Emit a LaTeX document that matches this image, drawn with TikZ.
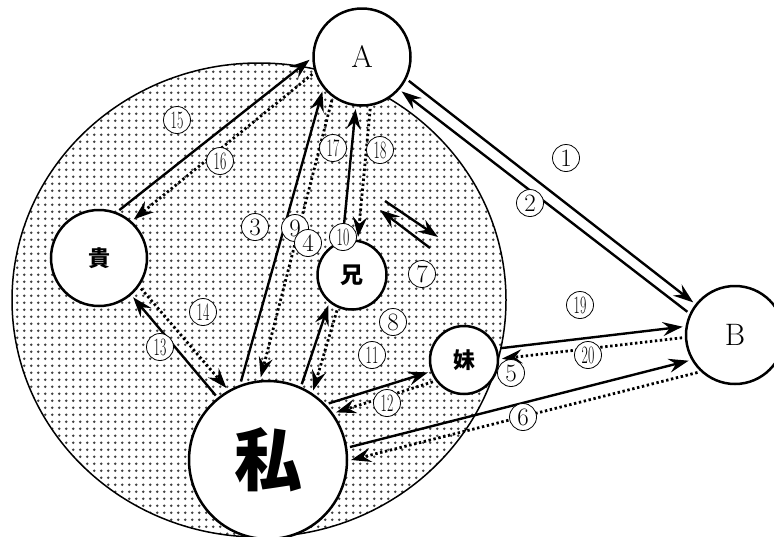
\documentclass[tikz,border=0pt]{standalone}
\usepackage{fontspec}
\usepackage{graphicx}
\usetikzlibrary{arrows.meta,patterns}
\newfontfamily\cjk{Noto Sans CJK JP}
\newcommand\nn[1]{\scalebox{.55}[1]{#1}}
\pgfdeclarepatternformonly{screen}{\pgfpointorigin}{\pgfpoint{7.2pt}{7.2pt}}{\pgfpoint{7.2pt}{7.2pt}}{%
  \pgfpathcircle{\pgfpoint{3.6pt}{3.6pt}}{1.6pt}\pgfusepath{fill}}
\tikzset{
  person/.style={circle,draw,fill=white,line width=2.5pt,outer sep=4pt,inner sep=0pt},
  num/.style={circle,draw,fill=white,line width=.8pt,minimum size=27pt,inner sep=0pt,font=\fontsize{25}{25}\selectfont},
  back/.style={dash pattern=on 2.4pt off 2.6pt,line width=2.8pt}
}
\begin{document}
\begin{tikzpicture}[>={Stealth[length=20pt,width=14pt,inset=7pt]},x=1pt,y=-1pt,line width=2.4pt]
	\useasboundingbox (0,0) rectangle (774,536);
	% dotted background
	\draw[line width=1.5pt,preaction={fill=white},pattern=screen,pattern color=black!75] (259,300) ellipse [x radius=247pt,y radius=237pt];
	% people
	\node[person,minimum size=97pt,font=\fontsize{31}{31}\selectfont] (A) at (362,57) {A};
	\node[person,minimum size=98pt,font=\fontsize{31}{31}\selectfont] (B) at (735,335) {B};
	\node[person,minimum size=96pt,font=\cjk\bfseries\fontsize{22}{22}\selectfont] (ki) at (99,258) {貴};
	\node[person,minimum size=69pt,font=\cjk\bfseries\fontsize{23}{23}\selectfont] (ani) at (352,275) {兄};
	\node[person,minimum size=68pt,font=\cjk\bfseries\fontsize{22}{22}\selectfont] (imo) at (464,360) {妹};
	\node[person,minimum size=158pt,font=\cjk\bfseries\fontsize{68}{68}\selectfont] (me) at (268,460) {私};
	% A and B
	\draw[->] (A.-27) -- (B.142);
	\draw[->] (B.154) -- (A.-41);
	% me and A
	\draw[->] (me.109) -- (A.-139);
	\draw[->,back] (A.-125) -- (me.95);
	% imo and B
	\draw[->] (imo.18) -- (B.171);
	\draw[->,back] (B.-177) -- (imo.2);
	% me and B
	\draw[->] (me.9) -- (B.-151);
	\draw[->,back] (B.-135) -- (me.0);
	% me and imo
	\draw[->] (me.43) -- (imo.-161);
	\draw[->,back] (imo.-145) -- (me.35);
	% me and ani
	\draw[->] (me.66) -- (ani.-128);
	\draw[->,back] (ani.-113) -- (me.57);
	% ani and A
	\draw[->] (ani.104) -- (A.-97);
	\draw[->,back] (A.-81) -- (ani.81);
	% ki and A
	\draw[->] (ki.67) -- (A.-177);
	\draw[->,back] (A.-161) -- (ki.48);
	% me and ki
	\draw[->] (me.129) -- (ki.-49);
	\draw[->,back] (ki.-36) -- (me.120);
	% loose pair
	\coordinate (p1) at (385,201);
	\coordinate (p2) at (438,237);
	\coordinate (q1) at (430,248);
	\coordinate (q2) at (380,210);
	\draw[->] (p1) -- (p2);
	\draw[->] (q1) -- (q2);
	% numbers
	\node[num] (n1) at (566,158) {1};
	\node[num] (n2) at (530,203) {2};
	\node[num] (n3) at (255,227) {3};
	\node[num] (n9) at (295,228) {9};
	\node[num] (n4) at (308,243) {4};
	\node[num] (n5) at (511,373) {5};
	\node[num] (n6) at (523,417) {6};
	\node[num] (n7) at (422,274) {7};
	\node[num] (n8) at (393,322) {8};
	\node[num] (n10) at (343,237) {\nn{10}};
	\node[num] (n11) at (372,355) {\nn{11}};
	\node[num] (n12) at (387,403) {\nn{12}};
	\node[num] (n13) at (160,347) {\nn{13}};
	\node[num] (n14) at (203,312) {\nn{14}};
	\node[num] (n15) at (177,120) {\nn{15}};
	\node[num] (n16) at (220,161) {\nn{16}};
	\node[num] (n17) at (333,148) {\nn{17}};
	\node[num] (n18) at (380,150) {\nn{18}};
	\node[num] (n19) at (580,305) {\nn{19}};
	\node[num] (n20) at (588,355) {\nn{20}};
\end{tikzpicture}
\end{document}
